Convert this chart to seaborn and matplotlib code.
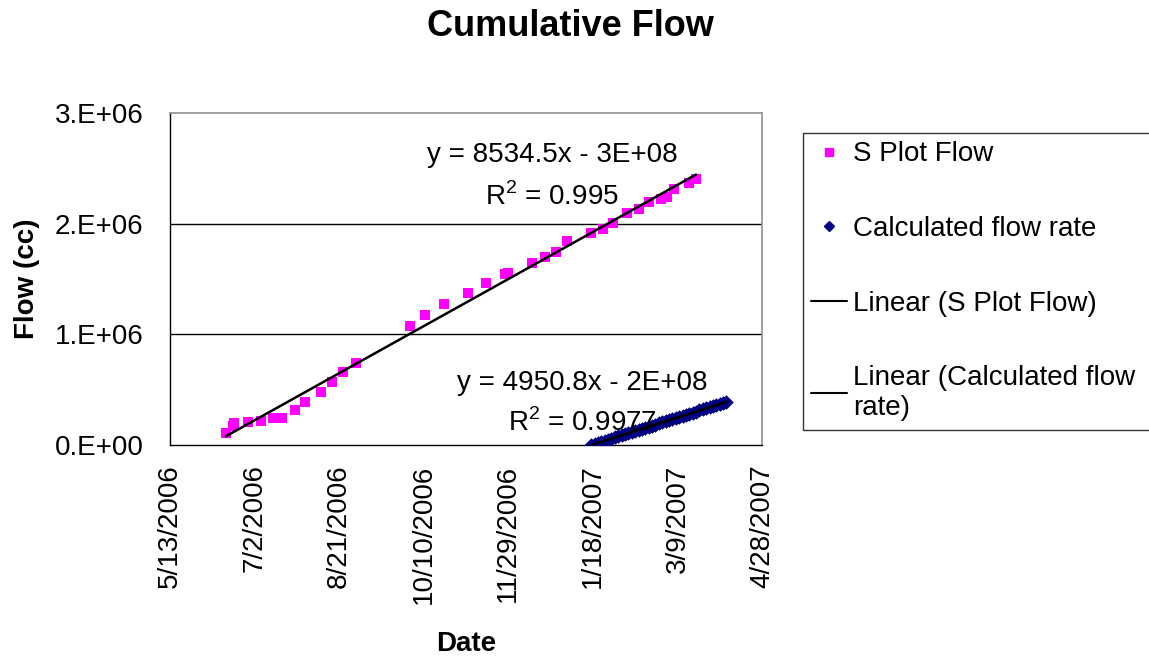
import pandas as pd
import numpy as np
import seaborn as sns
import matplotlib
matplotlib.use("Agg")
from matplotlib import pyplot as plt
import matplotlib.dates as mdates
from matplotlib.lines import Line2D

# S plot readings
s_dates = ["2006-06-15", "2006-06-19", "2006-06-20", "2006-06-28", "2006-07-06",
           "2006-07-13", "2006-07-18", "2006-07-26", "2006-08-01", "2006-08-10",
           "2006-08-17", "2006-08-23", "2006-08-31", "2006-10-02", "2006-10-11",
           "2006-10-22", "2006-11-05", "2006-11-16", "2006-11-27", "2006-11-29",
           "2006-12-13", "2006-12-21", "2006-12-27", "2007-01-03", "2007-01-17",
           "2007-01-24", "2007-01-30", "2007-02-07", "2007-02-14", "2007-02-20",
           "2007-02-27", "2007-03-03", "2007-03-07", "2007-03-16", "2007-03-20"]
s_flow = [0.108e6, 0.172e6, 0.199e6, 0.208e6, 0.220e6, 0.244e6, 0.247e6, 0.316e6,
          0.388e6, 0.479e6, 0.572e6, 0.659e6, 0.741e6, 1.078e6, 1.174e6, 1.274e6,
          1.378e6, 1.466e6, 1.545e6, 1.556e6, 1.644e6, 1.701e6, 1.746e6, 1.846e6,
          1.918e6, 1.951e6, 2.008e6, 2.095e6, 2.131e6, 2.198e6, 2.222e6, 2.243e6,
          2.313e6, 2.367e6, 2.403e6]

# calculated flow rate, read every two days
calc_start = "2007-01-17"
calc_flow = [0, 9e3, 19e3, 29e3, 38e3, 48e3, 58e3, 68e3, 78e3, 87e3, 97e3,
             107e3, 117e3, 126e3, 136e3, 146e3, 156e3, 166e3, 175e3, 185e3, 195e3,
             205e3, 214e3, 224e3, 234e3, 244e3, 253e3, 263e3, 273e3, 283e3, 292e3,
             302e3, 312e3, 321e3, 331e3, 341e3, 350e3, 360e3, 370e3, 379e3, 388e3]

x_ticks = ["2006-05-13", "2006-07-02", "2006-08-21", "2006-10-10", "2006-11-29",
           "2007-01-18", "2007-03-09", "2007-04-28"]
y_ticks = [0, 1e6, 2e6, 3e6]
y_ticklabels = ["0.E+00", "1.E+06", "2.E+06", "3.E+06"]

s_df = pd.DataFrame({"date": mdates.date2num(pd.to_datetime(s_dates)), "flow": s_flow})
c_df = pd.DataFrame({"date": mdates.date2num(pd.date_range(calc_start, periods=len(calc_flow), freq="2D")),
                     "flow": calc_flow})

sns.set_style("white")
plt.rcParams["font.family"] = ["Liberation Sans", "DejaVu Sans"]
plt.rcParams["mathtext.fontset"] = "custom"
plt.rcParams["mathtext.rm"] = "Liberation Sans"
for key in ["text.color", "axes.labelcolor", "xtick.color", "ytick.color"]:
    plt.rcParams[key] = "black"

pink = "#FF00FF"
navy = "#000080"

fig = plt.figure(figsize=(11.49, 6.58), dpi=100)
ax = fig.add_axes([170/1149, 1 - 445/658, 592/1149, 332/658])

ax.axhline(1e6, color="black", lw=1, zorder=0)
ax.axhline(2e6, color="black", lw=1, zorder=0)

sns.scatterplot(data=s_df, x="date", y="flow", marker="s", s=45, color=pink,
                linewidth=0, ax=ax, zorder=3)
sns.scatterplot(data=c_df, x="date", y="flow", marker="D", s=55, color=navy,
                linewidth=0, ax=ax, zorder=3)
sns.regplot(data=s_df, x="date", y="flow", scatter=False, ci=None, truncate=True,
            line_kws={"color": "black", "lw": 1.8, "zorder": 4}, ax=ax)
sns.regplot(data=c_df, x="date", y="flow", scatter=False, ci=None, truncate=True,
            line_kws={"color": "black", "lw": 1.8, "zorder": 4}, ax=ax)

tick_nums = mdates.date2num(pd.to_datetime(x_ticks))
ax.set_xlim(tick_nums[0], tick_nums[-1])
ax.set_ylim(0, 3e6)
ax.set_xticks(tick_nums)
ax.set_xticklabels([f"{d.month}/{d.day}/{d.year}" for d in pd.to_datetime(x_ticks)],
                   rotation=90, fontsize=20)
ax.set_yticks(y_ticks)
ax.set_yticklabels(y_ticklabels, fontsize=20)
ax.tick_params(axis="both", direction="inout", length=12, width=1, color="black")
ax.tick_params(axis="y", pad=13)
ax.tick_params(axis="x", pad=8)

for side in ["left", "bottom"]:
    ax.spines[side].set_color("black")
    ax.spines[side].set_linewidth(1)
for side in ["top", "right"]:
    ax.spines[side].set_color("#909090")
    ax.spines[side].set_linewidth(1.2)

ax.set_xlabel("Date", fontsize=20, fontweight="bold")
ax.set_ylabel("Flow (cc)", fontsize=20, fontweight="bold")
ax.xaxis.set_label_coords(0.5, -0.56)
ax.yaxis.set_label_coords(-0.22, 0.5)

fig.text(570/1149, 1 - 27/658, "Cumulative Flow", ha="center", va="center",
         fontsize=26, fontweight="bold")

ax.text(0.645, 0.873, "y = 8534.5x - 3E+08", transform=ax.transAxes,
        ha="center", va="center", fontsize=20)
ax.text(0.645, 0.747, "R$^2$ = 0.995", transform=ax.transAxes,
        ha="center", va="center", fontsize=20)
ax.text(0.696, 0.187, "y = 4950.8x - 2E+08", transform=ax.transAxes,
        ha="center", va="center", fontsize=20)
ax.text(0.696, 0.066, "R$^2$ = 0.9977", transform=ax.transAxes,
        ha="center", va="center", fontsize=20)

handles = [
    Line2D([], [], marker="s", color=pink, linestyle="none", markersize=6),
    Line2D([], [], marker="D", color=navy, linestyle="none", markersize=5),
    Line2D([], [], color="black", lw=1.5),
    Line2D([], [], color="black", lw=1.5),
]
labels = ["S Plot Flow", "Calculated flow rate", "Linear (S Plot Flow)",
          "Linear (Calculated flow\nrate)"]
# box runs past the right edge like the original
leg = fig.legend(handles, labels, loc="upper left",
                 bbox_to_anchor=(803/1149, 1 - 133/658, 420/1149, 0), mode="expand",
                 fontsize=20, frameon=True, fancybox=False, edgecolor="black",
                 handlelength=1.3, handletextpad=0.2, labelspacing=1.75,
                 borderpad=0.3, borderaxespad=0)
leg.get_frame().set_linewidth(1)

fig.savefig("out.png", dpi=100)
